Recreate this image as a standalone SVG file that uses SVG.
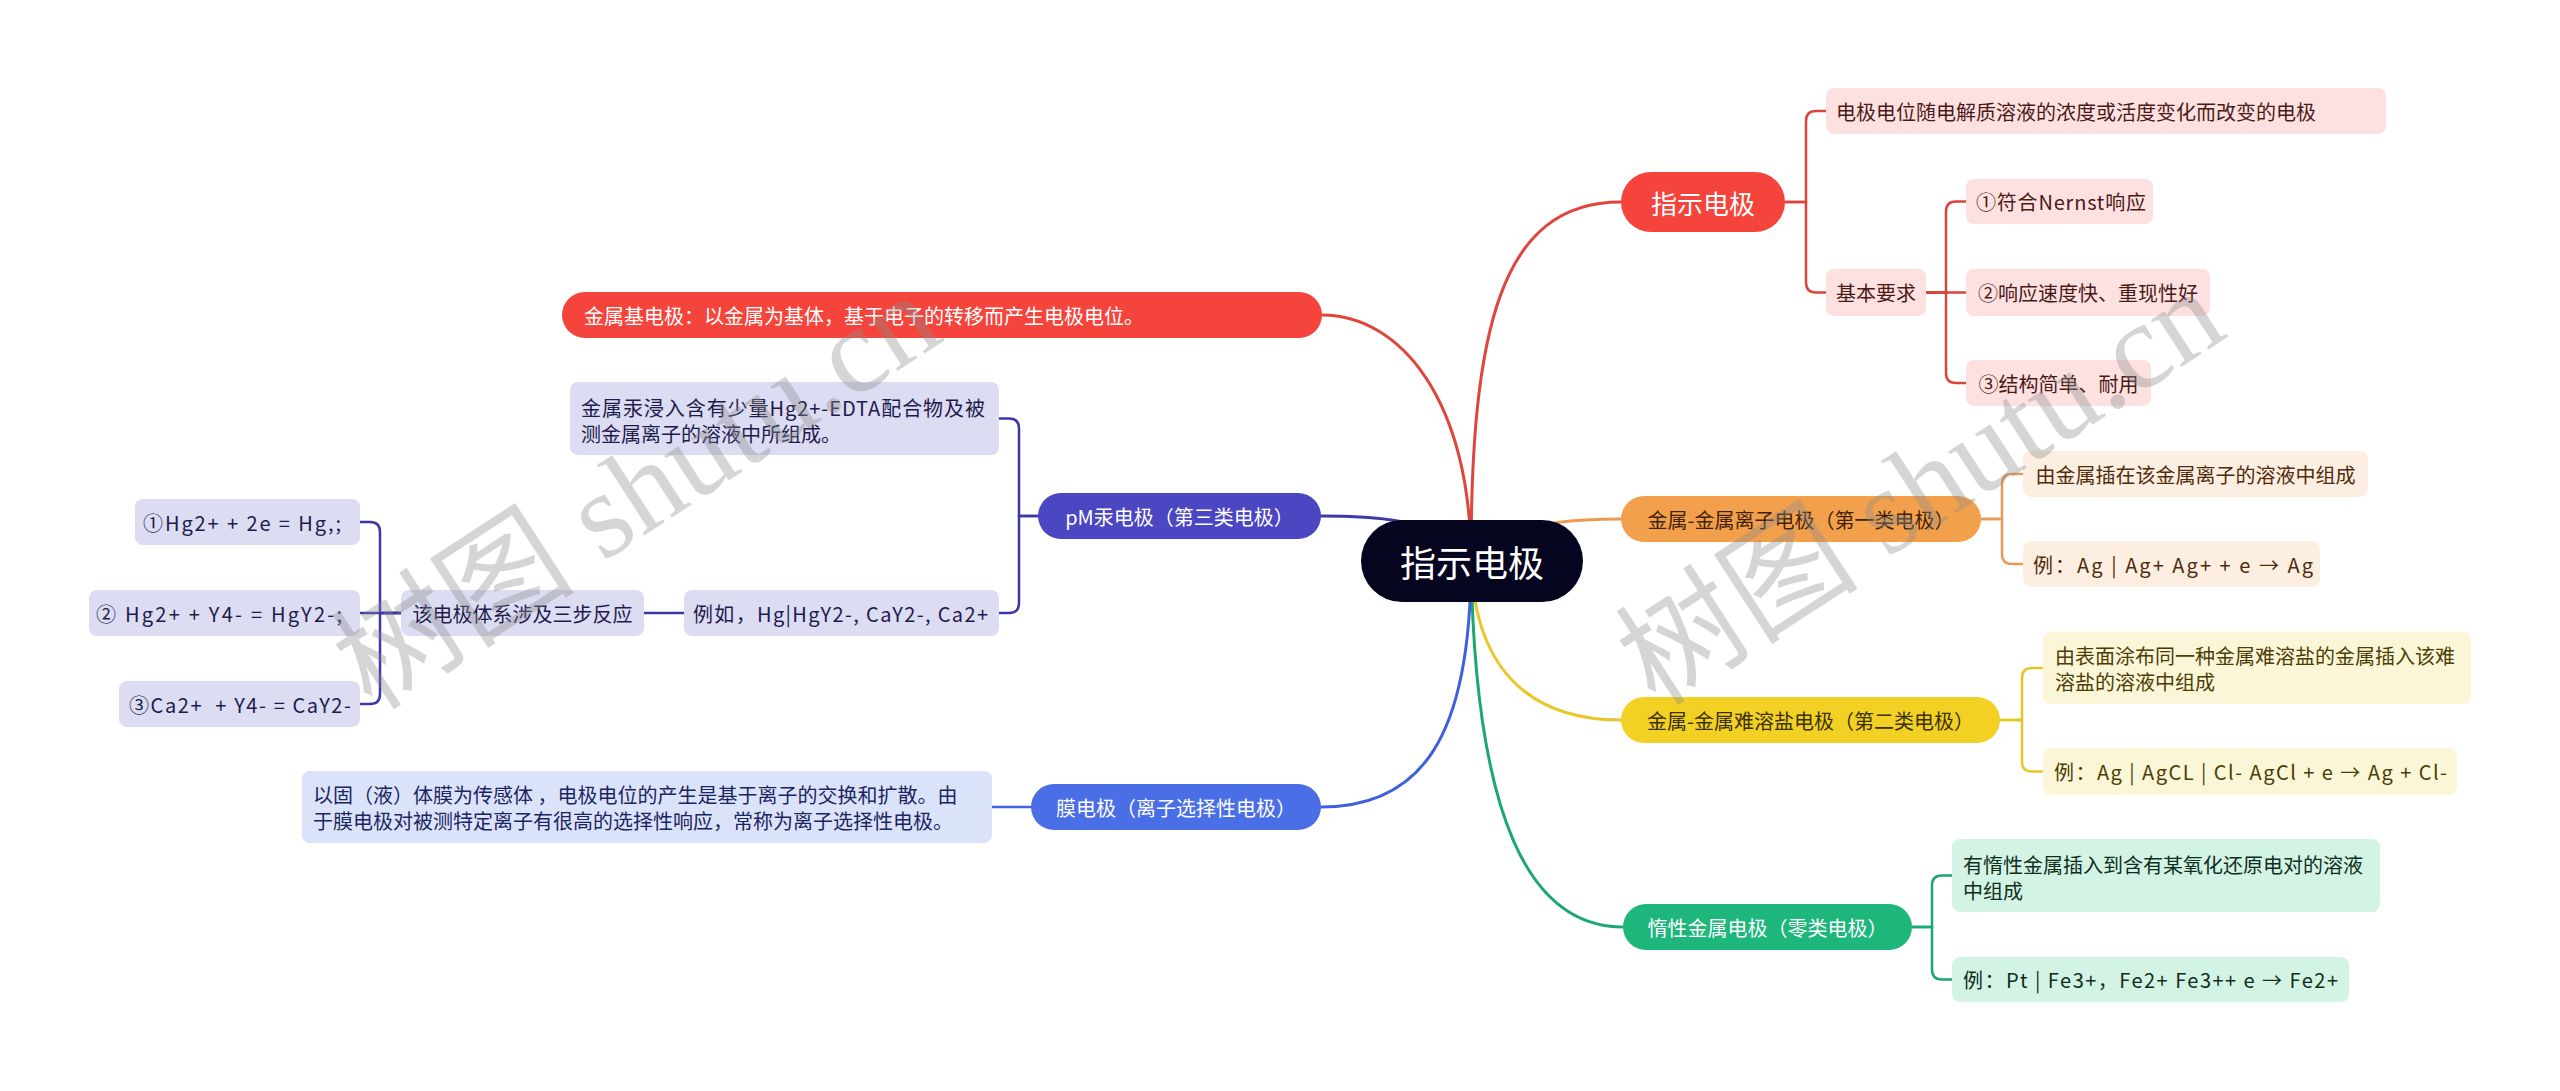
<svg xmlns="http://www.w3.org/2000/svg" width="2560" height="1091" viewBox="0 0 2560 1091">
<style>
text{font-family:"Noto Sans CJK SC","Noto Sans",sans-serif;font-size:20px;dominant-baseline:central}
.c{text-anchor:middle}
.w{fill:#ffffff}
.conn path{fill:none;stroke-width:3;stroke-linecap:round}
.sub path{stroke-width:2.5}
.wm{font-family:"Liberation Serif","Noto Sans CJK SC",serif;font-size:122px;fill:#8c8c8c;opacity:0.36;dominant-baseline:alphabetic}
</style>
<rect width="2560" height="1091" fill="#ffffff"/>
<g id="connectors" class="conn">
  <path d="M1471,561 C1471,330 1500,202 1621,202" stroke="#e0453c"/>
  <path d="M1471,561 C1471,400 1400,315 1322,315" stroke="#e0453c"/>
  <path d="M1471,545 C1420,520 1380,516 1321,516" stroke="#3d39aa"/>
  <path d="M1471,545 C1540,520 1580,519 1621,519" stroke="#ec9a50"/>
  <path d="M1471,561 C1475,680 1540,720 1621,720" stroke="#e8c72c"/>
  <path d="M1471,561 C1475,820 1530,927 1623,927" stroke="#1aa870"/>
  <path d="M1471,561 C1471,740 1420,807 1321,807" stroke="#3f60dc"/>
  <g class="sub">
    <path d="M1785,202 H1806 V121 Q1806,111 1816,111 H1826" stroke="#d9453c"/>
    <path d="M1785,202 H1806 V282.5 Q1806,292.5 1816,292.5 H1826" stroke="#d9453c"/>
    <path d="M1926,292.5 H1946 V211.5 Q1946,201.5 1956,201.5 H1966" stroke="#d9453c"/>
    <path d="M1926,292.5 H1966" stroke="#d9453c"/>
    <path d="M1926,292.5 H1946 V373 Q1946,383 1956,383 H1966" stroke="#d9453c"/>
    <path d="M1981,519 H2002 V484 Q2002,474 2012,474 H2023" stroke="#e89a55"/>
    <path d="M1981,519 H2002 V554 Q2002,564 2012,564 H2023" stroke="#e89a55"/>
    <path d="M2000,720 H2022 V678 Q2022,668 2032,668 H2043" stroke="#e6c52a"/>
    <path d="M2000,720 H2022 V761.5 Q2022,771.5 2032,771.5 H2043" stroke="#e6c52a"/>
    <path d="M1912,927 H1932 V885.5 Q1932,875.5 1942,875.5 H1952" stroke="#1aa871"/>
    <path d="M1912,927 H1932 V969.5 Q1932,979.5 1942,979.5 H1952" stroke="#1aa871"/>
    <path d="M1038,516 H1019 V428.5 Q1019,418.5 1009,418.5 H999" stroke="#3c37a8"/>
    <path d="M1038,516 H1019 V603 Q1019,613 1009,613 H999" stroke="#3c37a8"/>
    <path d="M684,613 H644" stroke="#3c37a8"/>
    <path d="M401,613 H380 V532 Q380,522 370,522 H360" stroke="#3c37a8"/>
    <path d="M401,613 H360" stroke="#3c37a8"/>
    <path d="M401,613 H380 V694 Q380,704 370,704 H360" stroke="#3c37a8"/>
    <path d="M1031,807 H992" stroke="#4466dd"/>
  </g>
</g>

<g id="root">
  <rect x="1361" y="520" width="222" height="82" rx="41" fill="#05051f"/>
  <text x="1472" y="561" class="c w" style="font-size:36px">指示电极</text>
</g>

<g id="n-zhishi">
  <rect x="1621" y="172" width="164" height="60" rx="30" fill="#f5443b"/>
  <text x="1703" y="202" class="c w" style="font-size:26px">指示电极</text>
</g>
<g id="n-zhishi-def">
  <rect x="1826" y="88" width="560" height="46" rx="8" fill="#fde1e0"/>
  <text x="1836" y="111" fill="#4a1a18">电极电位随电解质溶液的浓度或活度变化而改变的电极</text>
</g>
<g id="n-jiben">
  <rect x="1826" y="269" width="100" height="47" rx="8" fill="#fde1e0"/>
  <text x="1876" y="292.5" class="c" fill="#4a1a18">基本要求</text>
</g>
<g id="n-jiben-1">
  <rect x="1966" y="179" width="187" height="45" rx="8" fill="#fde1e0"/>
  <text x="1976" y="201.5" fill="#4a1a18" textLength="170" lengthAdjust="spacing">①符合Nernst响应</text>
</g>
<g id="n-jiben-2">
  <rect x="1966" y="269" width="244" height="47" rx="8" fill="#fde1e0"/>
  <text x="2088" y="292.5" class="c" fill="#4a1a18">②响应速度快、重现性好</text>
</g>
<g id="n-jiben-3">
  <rect x="1966" y="360" width="185" height="46" rx="8" fill="#fde1e0"/>
  <text x="2058.5" y="383" class="c" fill="#4a1a18">③结构简单、耐用</text>
</g>

<g id="n-first">
  <rect x="1621" y="496" width="360" height="46" rx="23" fill="#f3a04c"/>
  <text x="1801" y="519" class="c" fill="#3f2205">金属-金属离子电极（第一类电极）</text>
</g>
<g id="n-first-1">
  <rect x="2023" y="451" width="345" height="46" rx="8" fill="#fdeee2"/>
  <text x="2195.5" y="474" class="c" fill="#4f2c0c">由金属插在该金属离子的溶液中组成</text>
</g>
<g id="n-first-2">
  <rect x="2023" y="541" width="297" height="46" rx="8" fill="#fdeee2"/>
  <text x="2033" y="564" fill="#4f2c0c" textLength="280" lengthAdjust="spacing">例：Ag | Ag+ Ag+ + e → Ag</text>
</g>

<g id="n-second">
  <rect x="1621" y="697" width="379" height="46" rx="23" fill="#f2d024"/>
  <text x="1810.5" y="720" class="c" fill="#3a3000">金属-金属难溶盐电极（第二类电极）</text>
</g>
<g id="n-second-1">
  <rect x="2043" y="632" width="428" height="72" rx="8" fill="#fcf6d8"/>
  <text x="2055" y="655" fill="#4a3e05">由表面涂布同一种金属难溶盐的金属插入该难</text>
  <text x="2055" y="681" fill="#4a3e05">溶盐的溶液中组成</text>
</g>
<g id="n-second-2">
  <rect x="2043" y="748" width="414" height="47" rx="8" fill="#fcf6d8"/>
  <text x="2054" y="771.5" fill="#4a3e05" textLength="393" lengthAdjust="spacing">例：Ag | AgCL | Cl- AgCl + e → Ag + Cl-</text>
</g>

<g id="n-zero">
  <rect x="1623" y="904" width="289" height="46" rx="23" fill="#1db67b"/>
  <text x="1767.5" y="927" class="c w">惰性金属电极（零类电极）</text>
</g>
<g id="n-zero-1">
  <rect x="1952" y="839" width="428" height="73" rx="8" fill="#d3f3e5"/>
  <text x="1963" y="864" fill="#0e2e20">有惰性金属插入到含有某氧化还原电对的溶液</text>
  <text x="1963" y="890" fill="#0e2e20">中组成</text>
</g>
<g id="n-zero-2">
  <rect x="1952" y="957" width="397" height="45" rx="8" fill="#d3f3e5"/>
  <text x="1963" y="979.5" fill="#0e2e20" textLength="375" lengthAdjust="spacing">例：Pt | Fe3+，Fe2+ Fe3++ e → Fe2+</text>
</g>

<g id="n-metal">
  <rect x="562" y="292" width="760" height="46" rx="23" fill="#f5443b"/>
  <text x="584" y="315" class="w">金属基电极：以金属为基体，基于电子的转移而产生电极电位。</text>
</g>

<g id="n-pm">
  <rect x="1038" y="493" width="283" height="46" rx="23" fill="#4b46c2"/>
  <text x="1179.5" y="516" class="c w">pM汞电极（第三类电极）</text>
</g>
<g id="n-pm-1">
  <rect x="570" y="382" width="429" height="73" rx="8" fill="#dcdcf3"/>
  <text x="581" y="407" fill="#1e1b4b" textLength="404" lengthAdjust="spacing">金属汞浸入含有少量Hg2+-EDTA配合物及被</text>
  <text x="581" y="433" fill="#1e1b4b">测金属离子的溶液中所组成。</text>
</g>
<g id="n-pm-2">
  <rect x="684" y="590" width="315" height="46" rx="8" fill="#dcdcf3"/>
  <text x="693" y="613" fill="#1e1b4b" textLength="295" lengthAdjust="spacing">例如，Hg|HgY2-, CaY2-, Ca2+</text>
</g>
<g id="n-pm-3">
  <rect x="401" y="590" width="243" height="46" rx="8" fill="#dcdcf3"/>
  <text x="522.5" y="613" class="c" fill="#1e1b4b">该电极体系涉及三步反应</text>
</g>
<g id="n-pm-3a">
  <rect x="135" y="499" width="225" height="46" rx="8" fill="#dcdcf3"/>
  <text x="143" y="522" fill="#1e1b4b" textLength="198" lengthAdjust="spacing">①Hg2+ + 2e = Hg,;</text>
</g>
<g id="n-pm-3b">
  <rect x="89" y="590" width="271" height="46" rx="8" fill="#dcdcf3"/>
  <text x="96" y="613" fill="#1e1b4b" textLength="246" lengthAdjust="spacing">② Hg2+ + Y4- = HgY2-;</text>
</g>
<g id="n-pm-3c">
  <rect x="119" y="681" width="241" height="46" rx="8" fill="#dcdcf3"/>
  <text x="129" y="704" fill="#1e1b4b" textLength="222" lengthAdjust="spacing">③Ca2+ &#160;+ Y4- = CaY2-</text>
</g>

<g id="n-membrane">
  <rect x="1031" y="784" width="290" height="46" rx="23" fill="#4a6ee6"/>
  <text x="1176" y="807" class="c w">膜电极（离子选择性电极）</text>
</g>
<g id="n-membrane-1">
  <rect x="302" y="771" width="690" height="72" rx="8" fill="#dbe3fb"/>
  <text x="313" y="794" fill="#1b2560">以固（液）体膜为传感体 ，电极电位的产生是基于离子的交换和扩散。由</text>
  <text x="313" y="820" fill="#1b2560">于膜电极对被测特定离子有很高的选择性响应，常称为离子选择性电极。</text>
</g>

<g id="watermark">
  <text class="wm" x="372" y="712" transform="rotate(-33 372 712)">树图 shutu.cn</text>
  <text class="wm" x="1656" y="708" transform="rotate(-33 1656 708)">树图 shutu.cn</text>
</g>
</svg>
